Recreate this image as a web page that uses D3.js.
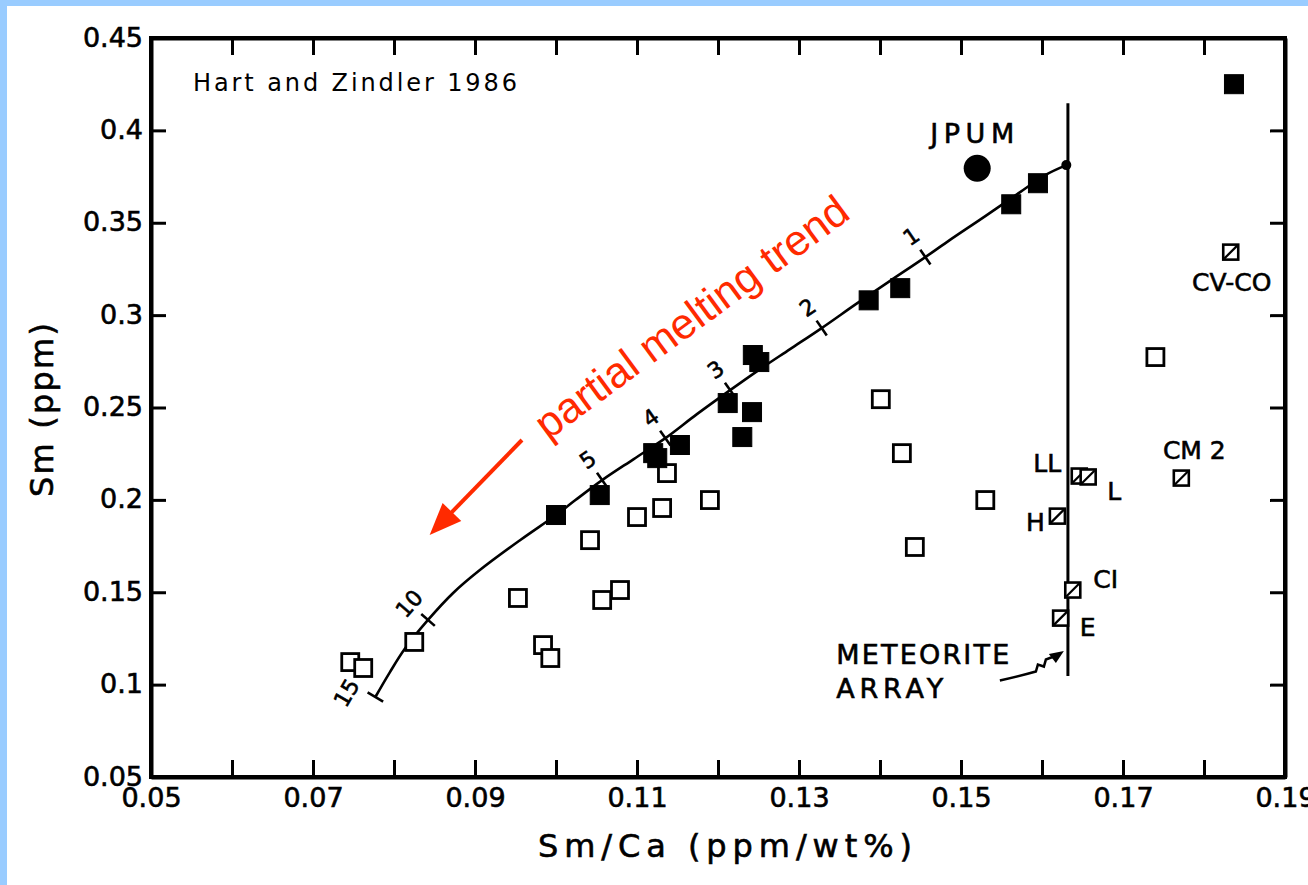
<!DOCTYPE html>
<html>
<head>
<meta charset="utf-8">
<script src="https://cdn.jsdelivr.net/npm/d3@7"></script>
<style>
  html, body { margin: 0; padding: 0; background: #ffffff; }
  svg { display: block; }
</style>
</head>
<body>
<script>
// ---------------- DATA ----------------
// Filled squares (peridotites on/near the melting curve)
const filledX = [0.1837, 0.1595, 0.1562, 0.1425, 0.1386, 0.1243, 0.1251, 0.1212, 0.1242, 0.1230, 0.1120, 0.1125, 0.1153, 0.1054, 0.1000];
const filledY = [0.4250, 0.3714, 0.3600, 0.3146, 0.3080, 0.2784, 0.2746, 0.2524, 0.2475, 0.2340, 0.2253, 0.2226, 0.2297, 0.2026, 0.1918];

// Open squares
const openX = [0.1137, 0.1190, 0.1131, 0.1100, 0.1042, 0.1057, 0.1079, 0.0953, 0.0984, 0.0993, 0.0825, 0.0746, 0.0762, 0.1401, 0.1427, 0.1530, 0.1443, 0.1740];
const openY = [0.2145, 0.1999, 0.1956, 0.1907, 0.1782, 0.1458, 0.1512, 0.1469, 0.1214, 0.1144, 0.1231, 0.1122, 0.1090, 0.2545, 0.2253, 0.1999, 0.1745, 0.2773];

// Meteorites (hatched squares)
const meteoriteNames = ["LL", "L", "H", "CI", "E", "CM 2", "CV-CO"];
const meteoriteX = [0.1646, 0.1657, 0.1619, 0.1638, 0.1623, 0.1772, 0.1833];
const meteoriteY = [0.2129, 0.2124, 0.1912, 0.1512, 0.1360, 0.2118, 0.3341];

// JPUM
const jpumX = [0.1520];
const jpumY = [0.3795];

// Partial melting model curve
const curveX = [0.1630, 0.1604, 0.1573, 0.1530, 0.1486, 0.1456, 0.1412, 0.1372, 0.1328, 0.1289, 0.1252, 0.1215, 0.1174, 0.1135, 0.1096, 0.1057, 0.1024, 0.1000, 0.0956, 0.0906, 0.0873, 0.0842, 0.0814, 0.0795, 0.0777];
const curveY = [0.3812, 0.3758, 0.3666, 0.3536, 0.3406, 0.3314, 0.3184, 0.3065, 0.2930, 0.2816, 0.2708, 0.2594, 0.2464, 0.2334, 0.2221, 0.2107, 0.1999, 0.1918, 0.1783, 0.1620, 0.1496, 0.1350, 0.1198, 0.1068, 0.0933];

// % melting tick marks on the curve
const meltLabels = ["1", "2", "3", "4", "5", "10", "15"];
const meltX = [0.1456, 0.1328, 0.1215, 0.1135, 0.1057, 0.0842, 0.0777];
const meltY = [0.3314, 0.2930, 0.2594, 0.2334, 0.2107, 0.1350, 0.0933];

// Meteorite array line
const arrayX = 0.1632;
const arrayYRange = [0.1047, 0.4147];

// Axis ticks
const xTicks = d3.range(0.05, 0.19 + 1e-9, 0.01).map(v => +v.toFixed(2));
const xTickLabels = ["0.05", "0.07", "0.09", "0.11", "0.13", "0.15", "0.17", "0.19"];
const yTicks = d3.range(0.05, 0.45 + 1e-9, 0.05).map(v => +v.toFixed(2));
const yTickLabels = ["0.05", "0.1", "0.15", "0.2", "0.25", "0.3", "0.35", "0.4", "0.45"];

// ---------------- LAYOUT ----------------
const W = 1308, H = 885;
const x = d3.scaleLinear([0.05, 0.19], [151, 1285]);
const y = d3.scaleLinear([0.05, 0.45], [777, 38]);

const labelOffsets = {
  "LL": [-32, -13], "L": [26, 14], "H": [-22, 6], "CI": [33, -11],
  "E": [27, 9], "CM 2": [13, -28], "CV-CO": [1, 30]
};

const svg = d3.select("body").append("svg")
  .attr("width", W).attr("height", H)
  .attr("viewBox", `0 0 ${W} ${H}`);

// background + light-blue border
svg.append("rect").attr("x", 0).attr("y", 0).attr("width", W).attr("height", H).attr("fill", "#99ccff");
svg.append("rect").attr("x", 7).attr("y", 6).attr("width", W - 7).attr("height", H - 6).attr("fill", "#ffffff");

const axisFont = "'DejaVu Sans', sans-serif";
const bolden = sel => sel.attr("stroke", "#000").attr("stroke-width", 0.6);

// ---------------- AXES ----------------
const gB = svg.append("g").attr("transform", `translate(0,${y(0.05)})`)
  .call(d3.axisBottom(x).tickValues(xTicks).tickSizeInner(-17).tickSizeOuter(0).tickPadding(11)
    .tickFormat(d => { const i = xTickLabels.indexOf(d.toFixed(2)); return i >= 0 ? xTickLabels[i] : ""; }));
const gT = svg.append("g").attr("transform", `translate(0,${y(0.45)})`)
  .call(d3.axisTop(x).tickValues(xTicks).tickSizeInner(-17).tickSizeOuter(0).tickFormat(() => ""));
const gL = svg.append("g").attr("transform", `translate(${x(0.05)},0)`)
  .call(d3.axisLeft(y).tickValues(yTicks).tickSizeInner(-15).tickSizeOuter(0).tickPadding(8)
    .tickFormat((d, i) => yTickLabels[i]));
const gR = svg.append("g").attr("transform", `translate(${x(0.19)},0)`)
  .call(d3.axisRight(y).tickValues(yTicks).tickSizeInner(-15).tickSizeOuter(0).tickFormat(() => ""));

[gB, gT, gL, gR].forEach(g => {
  g.select(".domain").attr("stroke", "#000").attr("stroke-width", 4);
  g.selectAll(".tick line").attr("stroke", "#000").attr("stroke-width", 3);
  g.selectAll(".tick text").attr("fill", "#000").attr("font-family", axisFont).call(bolden);
});
gB.selectAll(".tick text").attr("font-size", 27);
gL.selectAll(".tick text").attr("font-size", 27).attr("dy", "0.3em");
svg.append("rect").attr("x", x(0.05)).attr("y", y(0.45))
  .attr("width", x(0.19) - x(0.05)).attr("height", y(0.05) - y(0.45))
  .attr("fill", "none").attr("stroke", "#000").attr("stroke-width", 4);

// Axis titles
svg.append("text").attr("x", 538).attr("y", 857)
  .attr("font-family", axisFont).attr("font-size", 32)
  .attr("textLength", 374).attr("lengthAdjust", "spacing")
  .call(bolden)
  .text("Sm/Ca (ppm/wt%)");
svg.append("text").attr("transform", "translate(53,497) rotate(-90)")
  .attr("font-family", axisFont).attr("font-size", 32)
  .attr("textLength", 174).attr("lengthAdjust", "spacing")
  .call(bolden)
  .text("Sm (ppm)");

// Citation
svg.append("text").attr("x", 193).attr("y", 91)
  .attr("font-family", "'DejaVu Sans', Verdana, sans-serif").attr("font-size", 24)
  .attr("textLength", 324).attr("lengthAdjust", "spacing")
  .text("Hart and Zindler 1986");

// ---------------- MARKS ----------------
const plot = svg.append("g");

// meteorite array line
plot.append("line")
  .attr("x1", x(arrayX)).attr("x2", x(arrayX))
  .attr("y1", y(arrayYRange[0])).attr("y2", y(arrayYRange[1]))
  .attr("stroke", "#000").attr("stroke-width", 3);

// melting curve
const curvePts = curveX.map((v, i) => [v, curveY[i]]);
plot.append("path")
  .datum(curvePts)
  .attr("d", d3.line().x(d => x(d[0])).y(d => y(d[1])).curve(d3.curveCatmullRom.alpha(0.5)))
  .attr("fill", "none").attr("stroke", "#000").attr("stroke-width", 2.6);

// top end dot of curve
plot.append("circle").attr("cx", x(curveX[0])).attr("cy", y(curveY[0])).attr("r", 5).attr("fill", "#000");

// melt ticks
meltLabels.forEach((lab, k) => {
  const px = x(meltX[k]), py = y(meltY[k]);
  let idx = curveX.findIndex((v, i) => Math.abs(v - meltX[k]) < 1e-6 && Math.abs(curveY[i] - meltY[k]) < 1e-6);
  const a = curvePts[Math.max(0, idx - 1)], b = curvePts[Math.min(curvePts.length - 1, idx + 1)];
  const dx = x(a[0]) - x(b[0]), dy = y(a[1]) - y(b[1]);
  const len = Math.hypot(dx, dy);
  const tx = dx / len, ty = dy / len;       // tangent pointing up-right
  const nx = ty, ny = -tx;                  // normal pointing up-left
  const tl = 9;
  plot.append("line")
    .attr("x1", px - nx * tl).attr("y1", py - ny * tl)
    .attr("x2", px + nx * tl).attr("y2", py + ny * tl)
    .attr("stroke", "#000").attr("stroke-width", 2.6);
  const ang = Math.atan2(ty, tx) * 180 / Math.PI;
  const off = lab === "15" ? 27 : 25;
  const along = lab === "15" ? -11 : 0;
  plot.append("text")
    .attr("transform", `translate(${px + nx * off + tx * along},${py + ny * off + ty * along}) rotate(${ang})`)
    .attr("text-anchor", "middle").attr("dy", "0.35em")
    .attr("font-family", axisFont).attr("font-size", 22)
    .call(bolden)
    .text(lab);
});

// open squares
const so = 17;
plot.selectAll("rect.open").data(openX.map((v, i) => [v, openY[i]])).join("rect")
  .attr("class", "open")
  .attr("x", d => x(d[0]) - so / 2).attr("y", d => y(d[1]) - so / 2)
  .attr("width", so).attr("height", so)
  .attr("fill", "#fff").attr("stroke", "#000").attr("stroke-width", 2.8);

// filled squares
const sf = 19;
plot.selectAll("rect.filled").data(filledX.map((v, i) => [v, filledY[i]])).join("rect")
  .attr("class", "filled")
  .attr("x", d => x(d[0]) - sf / 2).attr("y", d => y(d[1]) - sf / 2)
  .attr("width", sf).attr("height", sf)
  .attr("fill", "#000").attr("stroke", "#000").attr("stroke-width", 1);

// JPUM circle
plot.selectAll("circle.jpum").data(jpumX.map((v, i) => [v, jpumY[i]])).join("circle")
  .attr("class", "jpum")
  .attr("cx", d => x(d[0])).attr("cy", d => y(d[1])).attr("r", 13.5).attr("fill", "#000");
plot.append("text").attr("x", x(jpumX[0]) - 5).attr("y", y(jpumY[0]) - 25)
  .attr("text-anchor", "middle").attr("font-family", axisFont).attr("font-size", 27)
  .attr("textLength", 84).attr("lengthAdjust", "spacing")
  .call(bolden)
  .text("JPUM");

// meteorite hatched squares
const sm = 15;
const mg = plot.selectAll("g.met").data(meteoriteNames.map((n, i) => ({ n, v: [meteoriteX[i], meteoriteY[i]] }))).join("g")
  .attr("class", "met")
  .attr("transform", d => `translate(${x(d.v[0])},${y(d.v[1])})`);
mg.append("rect").attr("x", -sm / 2).attr("y", -sm / 2).attr("width", sm).attr("height", sm)
  .attr("fill", "#fff").attr("stroke", "#000").attr("stroke-width", 2.6);
mg.append("line").attr("x1", -sm / 2 + 1).attr("y1", sm / 2 - 1).attr("x2", sm / 2 - 1).attr("y2", -sm / 2 + 1)
  .attr("stroke", "#000").attr("stroke-width", 2.2);
mg.append("text")
  .attr("x", d => labelOffsets[d.n][0]).attr("y", d => labelOffsets[d.n][1])
  .attr("text-anchor", "middle").attr("dy", "0.36em")
  .attr("font-family", axisFont).attr("font-size", 25)
  .call(bolden)
  .text(d => d.n);

// METEORITE ARRAY annotation
const annX = x(0.1346), annY = y(0.1111);
svg.append("text").attr("x", annX).attr("y", annY)
  .attr("font-family", axisFont).attr("font-size", 27)
  .attr("textLength", 173).attr("lengthAdjust", "spacing").call(bolden).text("METEORITE");
svg.append("text").attr("x", annX).attr("y", annY + 34)
  .attr("font-family", axisFont).attr("font-size", 27)
  .attr("textLength", 107).attr("lengthAdjust", "spacing").call(bolden).text("ARRAY");
{
  const sx = x(0.1548), sy = y(0.1022);
  const ex = x(0.1627), ey = y(0.1182);
  const p = d3.path();
  p.moveTo(sx, sy);
  p.quadraticCurveTo(sx + 22, sy - 5, sx + 36, sy - 9);
  p.lineTo(sx + 38, sy - 16);
  p.lineTo(sx + 44, sy - 14);
  p.lineTo(sx + 46, sy - 21);
  p.lineTo(ex - 6, ey + 4);
  svg.append("path").attr("d", p.toString()).attr("fill", "none").attr("stroke", "#000").attr("stroke-width", 2.5);
  svg.append("path").attr("d", `M${ex},${ey} L${ex - 15},${ey + 3} L${ex - 8},${ey + 12} Z`).attr("fill", "#000");
}

// ---------------- RED ANNOTATION ----------------
const red = "#ff2a00";
{
  const sx = x(0.0958), sy = y(0.2324);
  const tx = x(0.0844), ty = y(0.1810);
  const ang = Math.atan2(ty - sy, tx - sx);
  const hl = 32, hw = 13;
  const bx = tx - Math.cos(ang) * hl, by = ty - Math.sin(ang) * hl;
  svg.append("line").attr("x1", sx).attr("y1", sy).attr("x2", bx + Math.cos(ang) * 4).attr("y2", by + Math.sin(ang) * 4)
    .attr("stroke", red).attr("stroke-width", 4);
  svg.append("path")
    .attr("d", `M${tx},${ty} L${bx - Math.sin(ang) * hw},${by + Math.cos(ang) * hw} L${bx + Math.sin(ang) * hw},${by - Math.cos(ang) * hw} Z`)
    .attr("fill", red);
  const lx = x(0.0990), ly = y(0.2320);
  svg.append("text")
    .attr("transform", `translate(${lx},${ly}) rotate(-36.3)`)
    .attr("font-family", "'Liberation Sans', Arial, sans-serif").attr("font-size", 43)
    .attr("fill", red)
    .text("partial melting trend");
}
</script>
</body>
</html>
